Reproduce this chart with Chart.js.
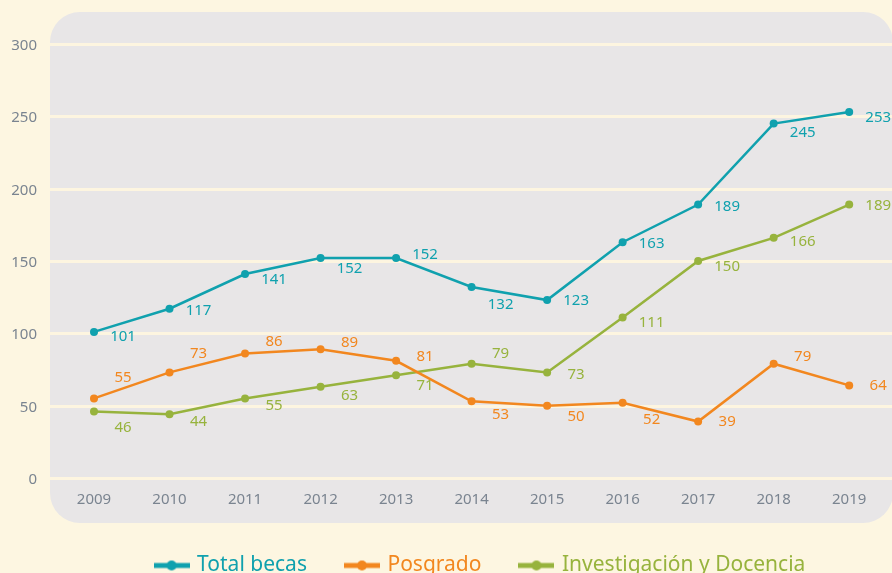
<!DOCTYPE html>
<html>
<head>
<meta charset="utf-8">
<script src="https://cdn.jsdelivr.net/npm/chart.js@4.4.1/dist/chart.umd.min.js"></script>
<style>
  html, body { margin: 0; padding: 0; background: #fdf6e1; }
</style>
</head>
<body>
<canvas id="becas-chart" width="892" height="573"></canvas>
<script>
const years = ['2009', '2010', '2011', '2012', '2013', '2014', '2015', '2016', '2017', '2018', '2019'];
const totalBecas = [101, 117, 141, 152, 152, 132, 123, 163, 189, 245, 253];
const posgrado = [55, 73, 86, 89, 81, 53, 50, 52, 39, 79, 64];
const investigacion = [46, 44, 55, 63, 71, 79, 73, 111, 150, 166, 189];

// vertical shift of each value label relative to its point (px)
const totalShift = [5, 2, 6, 11, -3, 18, 1, 2, 2, 9, 6];
const posgradoShift = [-21, -19, -12, -7, -4, 13, 11, 17, 0, -7, 0];
const investigacionShift = [16, 7, 7, 9, 10, -10, 2, 5, 6, 4, 1];

const TEAL = '#10a1ae';
const ORANGE = '#f2871f';
const GREEN = '#97b33d';
const CREAM = '#fdf6e1';
const PANEL = '#e8e6e7';
const AXIS_TEXT = '#7a8490';
const NUM_FONT = '"Noto Sans", "Open Sans", sans-serif';

// little line-with-dot marker for the legend
function legendMarker(color) {
    const c = document.createElement('canvas');
    c.width = 36;
    c.height = 12;
    const g = c.getContext('2d');
    g.fillStyle = color;
    g.fillRect(0, 3.5, 36, 5);
    g.beginPath();
    g.arc(18, 6, 5, 0, Math.PI * 2);
    g.fill();
    return c;
}

// rounded grey panel, full-width grid lines and the y labels sitting outside the panel
const backgroundPanel = {
    id: 'backgroundPanel',
    beforeDraw(chart) {
        const ctx = chart.ctx;
        const y = chart.scales.y;
        ctx.save();
        ctx.fillStyle = CREAM;
        ctx.fillRect(0, 0, chart.width, chart.height);
        ctx.fillStyle = PANEL;
        ctx.beginPath();
        ctx.roundRect(50, 12, 843, 511, 30);
        ctx.fill();
        ctx.strokeStyle = '#fdf5e0';
        ctx.lineWidth = 3;
        ctx.font = '15px ' + NUM_FONT;
        ctx.textAlign = 'right';
        ctx.textBaseline = 'middle';
        ctx.fillStyle = AXIS_TEXT;
        y.ticks.forEach(t => {
            const py = Math.round(y.getPixelForValue(t.value)) + 0.5;
            ctx.beginPath();
            ctx.moveTo(50, py);
            ctx.lineTo(chart.width, py);
            ctx.stroke();
            ctx.fillText(String(t.value), 37, py + 1);
        });
        ctx.restore();
    }
};

const valueLabels = {
    id: 'valueLabels',
    afterDatasetsDraw(chart) {
        const ctx = chart.ctx;
        ctx.save();
        ctx.font = '15px ' + NUM_FONT;
        ctx.textAlign = 'center';
        ctx.textBaseline = 'middle';
        chart.data.datasets.forEach((ds, i) => {
            const meta = chart.getDatasetMeta(i);
            ctx.fillStyle = ds.borderColor;
            meta.data.forEach((pt, j) => {
                ctx.fillText(String(ds.data[j]), pt.x + 29, pt.y + ds.labelShift[j]);
            });
        });
        ctx.restore();
    }
};

const ctx = document.getElementById('becas-chart').getContext('2d');

new Chart(ctx, {
    type: 'line',
    data: {
        labels: years,
        datasets: [
            { label: 'Total becas', data: totalBecas, borderColor: TEAL, backgroundColor: TEAL, labelShift: totalShift },
            { label: 'Posgrado', data: posgrado, borderColor: ORANGE, backgroundColor: ORANGE, labelShift: posgradoShift },
            { label: 'Investigación y Docencia', data: investigacion, borderColor: GREEN, backgroundColor: GREEN, labelShift: investigacionShift }
        ]
    },
    options: {
        responsive: false,
        animation: false,
        devicePixelRatio: 1,
        layout: { padding: { top: 44, right: 0, left: 70, bottom: 0 } },
        datasets: { line: { clip: false } },
        elements: {
            line: { borderWidth: 2.5, tension: 0 },
            point: { radius: 4, hoverRadius: 4, borderWidth: 0 }
        },
        scales: {
            x: {
                type: 'linear',
                min: 2009,
                max: 2019.514,
                grid: { display: false, drawTicks: false },
                border: { display: false },
                ticks: {
                    stepSize: 1,
                    includeBounds: false,
                    color: AXIS_TEXT,
                    font: { family: NUM_FONT, size: 15 },
                    padding: 13,
                    maxRotation: 0,
                    callback: v => String(v)
                },
                afterFit(scale) { scale.height = 37; }
            },
            y: {
                min: 0,
                max: 300,
                grid: { display: false, drawTicks: false },
                border: { display: false },
                ticks: { stepSize: 50, display: false },
                afterFit(scale) { scale.width = 24; }
            }
        },
        plugins: {
            tooltip: { enabled: false },
            legend: {
                position: 'bottom',
                maxHeight: 58,
                labels: {
                    usePointStyle: true,
                    pointStyleWidth: 30,
                    padding: 40,
                    font: { family: NUM_FONT, size: 21 },
                    generateLabels(chart) {
                        const items = Chart.defaults.plugins.legend.labels.generateLabels(chart);
                        return items.map(item => {
                            const color = chart.data.datasets[item.datasetIndex].borderColor;
                            item.fontColor = color;
                            item.pointStyle = legendMarker(color);
                            return item;
                        });
                    }
                }
            }
        }
    },
    plugins: [backgroundPanel, valueLabels]
});
</script>
</body>
</html>
